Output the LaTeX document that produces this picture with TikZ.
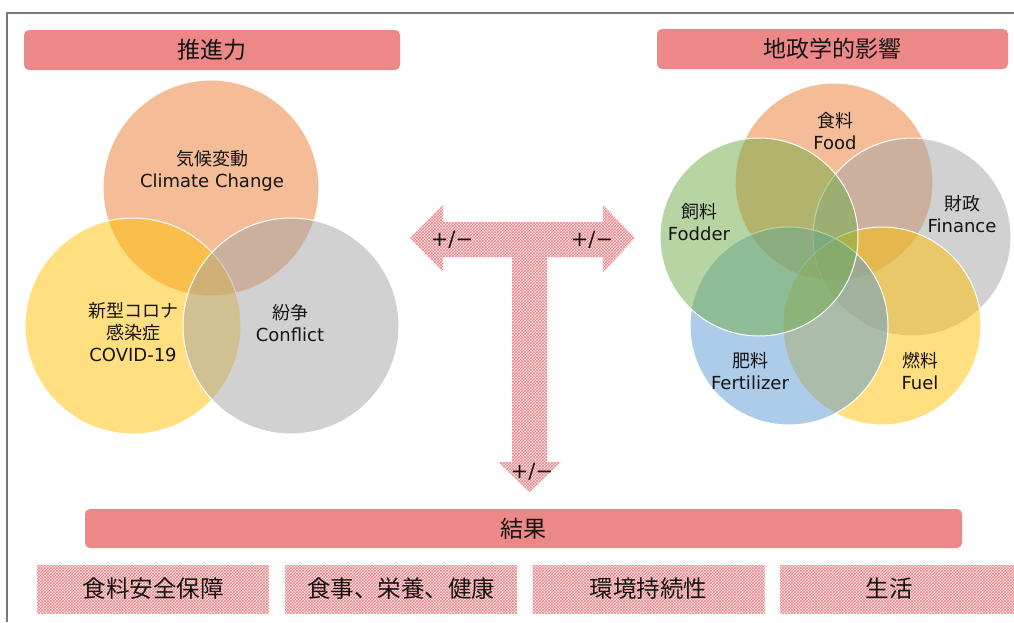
\documentclass[tikz,border=0pt]{standalone}
\usepackage{fontspec}
\setmainfont{Noto Sans CJK JP}
\newfontfamily\lat{DejaVu Sans}
\usetikzlibrary{patterns}
\definecolor{hdr}{RGB}{236,136,135}
\definecolor{oOrange}{RGB}{237,125,49}
\definecolor{oGold}{RGB}{255,192,0}
\definecolor{oGrey}{RGB}{165,165,165}
\definecolor{oGreen}{RGB}{112,173,71}
\definecolor{oBlue}{RGB}{91,155,213}
\definecolor{framecol}{RGB}{120,120,120}
\definecolor{patred}{RGB}{240,125,130}
\definecolor{patbg}{RGB}{253,236,236}
\definecolor{txt}{RGB}{20,20,20}
\begin{document}
\begin{tikzpicture}[x=1pt,y=-1pt,
  header/.style={fill=hdr, rounded corners=5pt, draw=none, text=txt,
    font=\fontsize{23}{26}\selectfont, inner sep=0pt},
  outbox/.style={fill=patbg, postaction={pattern=crosshatch, pattern color=patred},
    draw=none, minimum height=48pt, minimum width=232pt, inner sep=0pt, text=txt,
    font=\fontsize{23.5}{26}\selectfont},
  venn/.style={circle, fill=#1, fill opacity=0.5, draw=white, line width=1pt,
    inner sep=0pt},
  big/.style={minimum size=216pt},
  small/.style={minimum size=198pt},
  lbl/.style={text=txt, align=center, inner sep=0pt, font=\fontsize{18}{22}\selectfont},
  pm/.style={text=txt, inner sep=0pt, font=\lat\fontsize{21}{22}\selectfont},
  tarrow/.style={fill=patbg, postaction={pattern=crosshatch, pattern color=patred}}
]
\useasboundingbox (0,0) rectangle (1014,622);
\fill[white] (0,0) rectangle (1014,622);
% frame
\draw[framecol, line width=1.5pt] (7,622) -- (7,13) -- (1014,13);

% headers
\node[header, minimum width=376pt, minimum height=40pt] (drv) at (212,50) {推進力};
\node[header, minimum width=351pt, minimum height=40pt] (geo) at (832.5,49) {地政学的影響};
\node[header, minimum width=877pt, minimum height=39pt] (res) at (523.5,528.5) {結果};

% outcome boxes
\node[outbox] (o1) at (153,589) {食料安全保障};
\node[outbox] (o2) at (401,589) {食事、栄養、健康};
\node[outbox] (o3) at (648.5,589) {環境持続性};
\node[outbox, minimum width=236pt] (o4) at (898,589) {\hspace*{-18pt}生活};

% left Venn
\node[venn=oOrange, big] (cc) at (211,188) {};
\node[venn=oGold, big] (cv) at (133,326) {};
\node[venn=oGrey, big] (cf) at (291,326) {};
\node[lbl] (cct) at (212,171) {気候変動\\{\lat Climate Change}};
\node[lbl] (cvt) at (133,332) {新型コロナ\\感染症\\{\lat COVID-19}};
\node[lbl] (cft) at (290,323) {紛争\\{\lat Conflict}};

% T arrow
\path[tarrow] (410,238) -- (443,205) -- (443,222) -- (603,222) -- (603,205)
  -- (635,238) -- (603,272) -- (603,257) -- (547,257) -- (547,462) -- (561,462)
  -- (529.5,492) -- (498,462) -- (512,462) -- (512,257) -- (443,257) -- (443,272) -- cycle;
\node[pm] (pl) at (452,240) {+/−};
\node[pm] (pr) at (592,240) {+/−};
\node[pm] (pd) at (532,472) {+/−};

% right Venn
\node[venn=oOrange, small] (fd) at (834,182) {};
\node[venn=oGrey, small] (fn) at (912,237) {};
\node[venn=oGold, small] (fu) at (882,326) {};
\node[venn=oBlue, small] (fe) at (789,326) {};
\node[venn=oGreen, small] (fo) at (759,237) {};
\node[lbl] (fdt) at (835,131) {食料\\{\lat Food}};
\node[lbl] (fnt) at (962,214) {財政\\{\lat Finance}};
\node[lbl] (fot) at (699,222) {飼料\\{\lat Fodder}};
\node[lbl] (fet) at (750,371) {肥料\\{\lat Fertilizer}};
\node[lbl] (fut) at (920,371) {燃料\\{\lat Fuel}};
\end{tikzpicture}
\end{document}
